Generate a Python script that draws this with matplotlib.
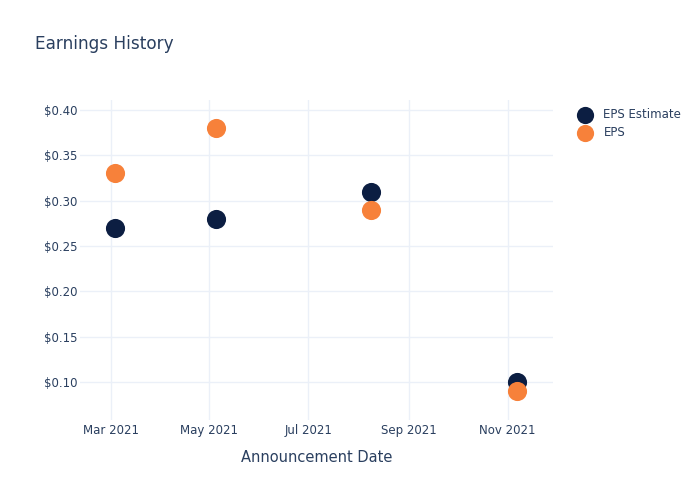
import matplotlib
matplotlib.use("Agg")
import matplotlib.pyplot as plt
import matplotlib.dates as mdates
from matplotlib.ticker import FuncFormatter
import pandas as pd

DATES = pd.to_datetime(["2021-03-04", "2021-05-05", "2021-08-09", "2021-11-07"])
EPS_ESTIMATE = [0.27, 0.28, 0.31, 0.10]
EPS_ACTUAL = [0.33, 0.38, 0.29, 0.09]

NAVY = "#0c1e42"
ORANGE = "#f7813a"
TEXT = "#2a3f5f"
GRID = "#ebf0f8"

fig = plt.figure(figsize=(7, 5), dpi=100)
ax = fig.add_axes([0.114, 0.16, 0.676, 0.64])

ax.scatter(DATES, EPS_ESTIMATE, s=190, color=NAVY, label="EPS Estimate", zorder=3, linewidths=0)
ax.scatter(DATES, EPS_ACTUAL, s=190, color=ORANGE, label="EPS", zorder=4, linewidths=0)

ax.set_xlim(pd.Timestamp("2021-02-10"), pd.Timestamp("2021-11-29"))
ax.set_ylim(0.058, 0.411)
ax.set_yticks([0.10, 0.15, 0.20, 0.25, 0.30, 0.35, 0.40])
ax.yaxis.set_major_formatter(FuncFormatter(lambda v, p: f"${v:.2f}"))
ax.xaxis.set_major_locator(mdates.MonthLocator(bymonth=[3, 5, 7, 9, 11]))
ax.xaxis.set_major_formatter(mdates.DateFormatter("%b %Y"))

ax.grid(True, color=GRID, linewidth=1)
ax.set_axisbelow(True)
for sp in ax.spines.values():
    sp.set_visible(False)
ax.tick_params(length=0, colors=TEXT, labelsize=8.5)
ax.tick_params(axis="y", pad=2)
ax.tick_params(axis="x", pad=3)
ax.set_xlabel("Announcement Date", color=TEXT, fontsize=10.5, labelpad=9)

fig.text(0.05, 0.912, "Earnings History", color=TEXT, fontsize=12.2, va="center")

leg = fig.legend(loc="upper left", bbox_to_anchor=(0.803, 0.805), frameon=False,
                 fontsize=8.5, handletextpad=0.6, labelspacing=0.45, markerscale=0.9)
for t in leg.get_texts():
    t.set_color(TEXT)

fig.savefig("out.png", dpi=100, facecolor="white")
